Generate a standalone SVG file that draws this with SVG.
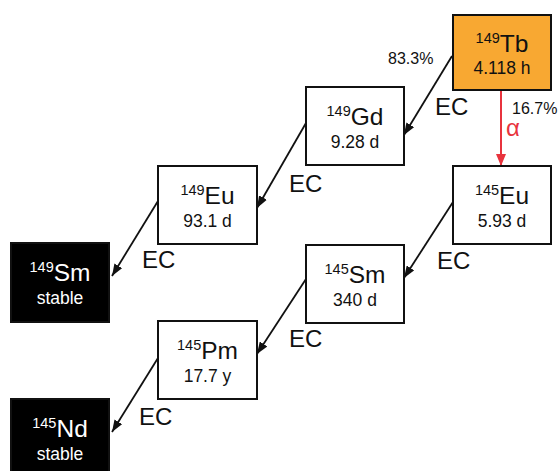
<svg xmlns="http://www.w3.org/2000/svg" width="560" height="471" viewBox="0 0 560 471">
<defs>
<style>
.box{fill:#ffffff;stroke:#111111;stroke-width:2}
.stable{fill:#000000;stroke:#111111;stroke-width:2}
.tb{fill:#F8A832;stroke:#111111;stroke-width:2}
text{font-family:"Liberation Sans",Arial,sans-serif;fill:#111111}
.sym{font-size:24.5px;text-anchor:middle}
.sup{font-size:14.5px}
.hl{font-size:17.5px;text-anchor:middle}
.w{fill:#ffffff}
.ec{font-size:24px}
.pct{font-size:16px}
.alpha{font-size:24px;fill:#E8333D}
.arr{stroke:#111111;stroke-width:1.8;fill:none;marker-end:url(#ah)}
.red{stroke:#E8333D;stroke-width:2;fill:none;marker-end:url(#ahr)}
</style>
<marker id="ah" viewBox="0 0 12 9" refX="12" refY="4.5" markerWidth="12" markerHeight="9" orient="auto" markerUnits="userSpaceOnUse">
<path d="M0,0 L12,4.5 L0,9 z" fill="#111111"/>
</marker>
<marker id="ahr" viewBox="0 0 12 10" refX="12" refY="5" markerWidth="12" markerHeight="10" orient="auto" markerUnits="userSpaceOnUse">
<path d="M0,0 L12,5 L0,10 z" fill="#E8333D"/>
</marker>
</defs>
<g id="connectors">
<line class="arr" x1="452" y1="56" x2="404" y2="135"/>
<line class="arr" x1="306" y1="123" x2="257" y2="208"/>
<line class="arr" x1="158" y1="201" x2="112" y2="276"/>
<line class="arr" x1="453" y1="202" x2="404" y2="278"/>
<line class="arr" x1="306" y1="279" x2="257" y2="354"/>
<line class="arr" x1="158" y1="358" x2="112" y2="432"/>
<line class="red" x1="501" y1="90" x2="501" y2="166"/>
<text class="pct" x="388" y="64">83.3%</text>
<text class="ec" x="435" y="115">EC</text>
<text class="pct" x="512" y="114">16.7%</text>
<text class="alpha" x="506" y="136">α</text>
<text class="ec" x="289" y="192">EC</text>
<text class="ec" x="142" y="268">EC</text>
<text class="ec" x="437" y="269">EC</text>
<text class="ec" x="289" y="347">EC</text>
<text class="ec" x="139" y="425">EC</text>
</g>
<g id="Tb149">
<rect class="tb" x="453" y="15" width="98" height="75"/>
<text class="sym" x="502" y="52"><tspan class="sup" dy="-9">149</tspan><tspan dy="9">Tb</tspan></text>
<text class="hl" x="502" y="74">4.118 h</text>
</g>
<g id="Gd149">
<rect class="box" x="306" y="87" width="98" height="78"/>
<text class="sym" x="355" y="125"><tspan class="sup" dy="-9">149</tspan><tspan dy="9">Gd</tspan></text>
<text class="hl" x="355" y="148">9.28 d</text>
</g>
<g id="Eu149">
<rect class="box" x="158" y="166" width="99" height="78"/>
<text class="sym" x="207.5" y="204"><tspan class="sup" dy="-9">149</tspan><tspan dy="9">Eu</tspan></text>
<text class="hl" x="207.5" y="227">93.1 d</text>
</g>
<g id="Sm149">
<rect class="stable" x="11" y="243" width="98" height="79"/>
<text class="sym w" x="60" y="281"><tspan class="sup" dy="-9">149</tspan><tspan dy="9">Sm</tspan></text>
<text class="hl w" x="60" y="304">stable</text>
</g>
<g id="Eu145">
<rect class="box" x="453" y="166" width="98" height="78"/>
<text class="sym" x="502" y="204"><tspan class="sup" dy="-9">145</tspan><tspan dy="9">Eu</tspan></text>
<text class="hl" x="502" y="227">5.93 d</text>
</g>
<g id="Sm145">
<rect class="box" x="306" y="245" width="98" height="78"/>
<text class="sym" x="355" y="283"><tspan class="sup" dy="-9">145</tspan><tspan dy="9">Sm</tspan></text>
<text class="hl" x="355" y="306">340 d</text>
</g>
<g id="Pm145">
<rect class="box" x="158" y="321" width="99" height="78"/>
<text class="sym" x="207.5" y="359"><tspan class="sup" dy="-9">145</tspan><tspan dy="9">Pm</tspan></text>
<text class="hl" x="207.5" y="382">17.7 y</text>
</g>
<g id="Nd145">
<rect class="stable" x="11" y="399" width="98" height="78"/>
<text class="sym w" x="60" y="437"><tspan class="sup" dy="-9">145</tspan><tspan dy="9">Nd</tspan></text>
<text class="hl w" x="60" y="460">stable</text>
</g>
</svg>
